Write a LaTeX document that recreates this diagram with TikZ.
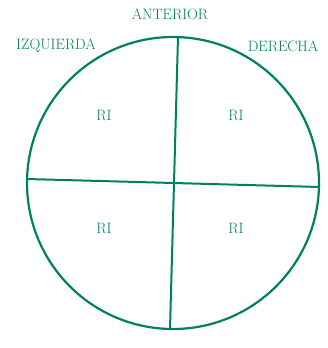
\documentclass[tikz,border=0pt]{standalone}
\usepackage{tikz}
\usetikzlibrary{positioning}
\definecolor{verde}{RGB}{0,128,98}

\begin{document}
\begin{tikzpicture}[
      x=1pt, y=-1pt,
      every node/.style={font=\fontsize{15}{17}\selectfont, text=verde},
      label/.style={inner sep=0pt, anchor=center},
      rim/.style={draw=verde, line width=2.2pt},
      axis/.style={draw=verde, line width=2pt},
    ]
    \useasboundingbox (0,0) rectangle (327,348);

    % Circle
    \draw[rim] (173,183) circle (146);

    % Axes
    \coordinate (top) at (178,37);
    \coordinate (bot) at (170,329);
    \coordinate (lft) at (27,179);
    \coordinate (rgt) at (320,187);
    \draw[axis] (top) -- (bot);
    \draw[axis] (lft) -- (rgt);

    % Labels
    \node[label] (ant) at (170,14) {ANTERIOR};
    \node[label] (izq) at (56,46) {IZQUIERDA};
    \node[label] (der) at (283,46) {DERECHA};
    \node[label] (ri1) at (104,115) {RI};
    \node[label] (ri2) at (236,115) {RI};
    \node[label] (ri3) at (104,228) {RI};
    \node[label] (ri4) at (236,228) {RI};
  \end{tikzpicture}
\end{document}
